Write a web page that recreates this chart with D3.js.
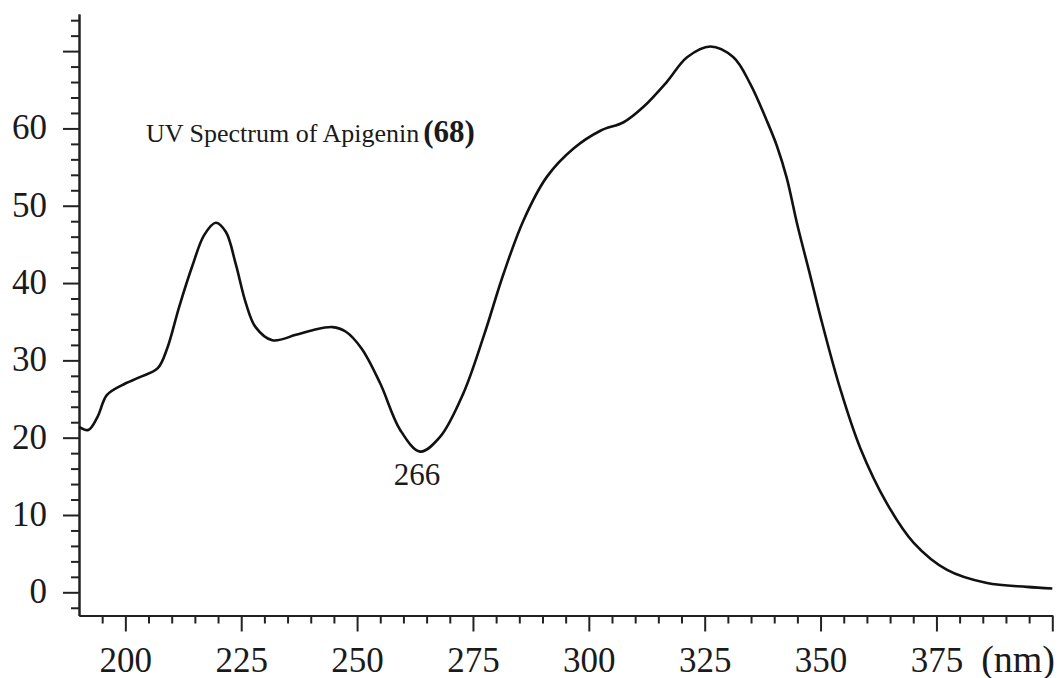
<!DOCTYPE html>
<html>
<head>
<meta charset="utf-8">
<script src="https://cdn.jsdelivr.net/npm/d3@7"></script>
<style>
  body { margin: 0; background: #fff; }
  text { font-family: "Liberation Serif", "Times New Roman", serif; fill: #1a1a1a; }
</style>
</head>
<body>
<div id="chart"></div>
<script>
const WIDTH = 1062;
const HEIGHT = 678;

// wavelength (nm) and absorbance
const wavelengths = [190, 192, 194, 196, 199.3, 203, 207, 209, 211.6, 214.5, 217, 219.5, 221.7, 223.8, 226,
  228.1, 231.7, 236.8, 240.4, 244.7, 247.6, 251, 255, 259.3, 263.6, 267.9, 272.9, 277.3, 281.6, 285.9,
  290.9, 296.7, 302.5, 307.5, 311.8, 316.8, 321.2, 326.2, 331.2, 334.8, 338.4, 340.6, 342.7, 345, 347.8,
  350, 354.3, 358.6, 364.3, 370.1, 377.3, 385.9, 394.5, 400];
const absorbance = [21.4, 21.0, 22.7, 25.5, 26.8, 27.8, 29.0, 31.5, 36.9, 42.3, 46.2, 47.8, 46.6, 42.5, 37.4,
  34.3, 32.6, 33.3, 33.9, 34.3, 33.7, 31.5, 27.0, 21.0, 18.2, 20.1, 25.7, 33.1, 41.2, 48.1,
  53.7, 57.4, 59.7, 60.8, 62.8, 66.0, 69.2, 70.6, 69.2, 65.8, 61.0, 57.7, 53.6, 47.5, 40.9,
  35.6, 26.2, 18.6, 11.5, 6.4, 2.9, 1.2, 0.7, 0.5];

const xMajor = [200, 225, 250, 275, 300, 325, 350, 375, 400];
const xLabels = ["200", "225", "250", "275", "300", "325", "350", "375", ""];
const yMajor = [0, 10, 20, 30, 40, 50, 60, 70];
const yLabels = ["0", "10", "20", "30", "40", "50", "60", ""];

const minimumLabel = { nm: 263.6, value: 18.2, text: "266" };

const points = wavelengths.map((w, i) => ({ nm: w, v: absorbance[i] }));

const svg = d3.select("#chart").append("svg")
  .attr("width", WIDTH)
  .attr("height", HEIGHT);

const x = d3.scaleLinear().domain([190, 400]).range([79, 1052.3]);
const y = d3.scaleLinear().domain([-3, 74.8]).range([615.5, 14]);

const AXIS_Y = y(-3);
const AXIS_X = x(190);

// y axis: minor ticks every 2, majors every 10
const yMinor = d3.range(-2, 75, 2).filter(d => d % 10 !== 0);

svg.append("g")
  .attr("transform", `translate(${AXIS_X},0)`)
  .call(d3.axisLeft(y).tickValues(yMinor).tickSize(8).tickSizeOuter(0).tickFormat(""))
  .call(g => g.selectAll("line, path").attr("stroke", "#222").attr("stroke-width", 2));

svg.append("g")
  .attr("transform", `translate(${AXIS_X},0)`)
  .call(d3.axisLeft(y).tickValues(yMajor).tickSize(16).tickSizeOuter(0).tickPadding(16)
    .tickFormat((d, i) => yLabels[i]))
  .call(g => g.selectAll("line, path").attr("stroke", "#222").attr("stroke-width", 2))
  .call(g => g.selectAll("text")
    .style("font-size", "35px")
    .attr("dy", "0.3em"));

// x axis: minor ticks every 5 nm
const xMinor = d3.range(195, 401, 5).filter(d => d % 25 !== 0);

svg.append("g")
  .attr("transform", `translate(0,${AXIS_Y})`)
  .call(d3.axisBottom(x).tickValues(xMinor).tickSize(8).tickSizeOuter(0).tickFormat(""))
  .call(g => g.selectAll("line, path").attr("stroke", "#222").attr("stroke-width", 2));

svg.append("g")
  .attr("transform", `translate(0,${AXIS_Y})`)
  .call(d3.axisBottom(x).tickValues(xMajor).tickSize(16).tickSizeOuter(0)
    .tickFormat((d, i) => xLabels[i]))
  .call(g => g.selectAll("line, path").attr("stroke", "#222").attr("stroke-width", 2))
  .call(g => g.selectAll("text")
    .style("font-size", "35px")
    .attr("y", 56)
    .attr("dy", null));

// unit label at end of x axis
svg.append("text")
  .attr("x", 1055)
  .attr("y", AXIS_Y + 56)
  .attr("text-anchor", "end")
  .style("font-size", "38px")
  .text("(nm)");

// spectrum line
const line = d3.line()
  .x(d => x(d.nm))
  .y(d => y(d.v))
  .curve(d3.curveCatmullRom.alpha(0.5));

svg.append("path")
  .datum(points)
  .attr("d", line)
  .attr("fill", "none")
  .attr("stroke", "#111")
  .attr("stroke-width", 2.6);

// title
const title = svg.append("text")
  .attr("x", 146)
  .attr("y", 142)
  .style("font-size", "26px");
title.append("tspan").text("UV Spectrum of Apigenin");
title.append("tspan")
  .attr("dx", 4)
  .style("font-size", "31px")
  .style("font-weight", "700")
  .text("(68)");

// label under the minimum
svg.append("text")
  .attr("x", x(minimumLabel.nm) - 3)
  .attr("y", y(minimumLabel.value) + 33)
  .attr("text-anchor", "middle")
  .style("font-size", "31px")
  .text(minimumLabel.text);
</script>
</body>
</html>
